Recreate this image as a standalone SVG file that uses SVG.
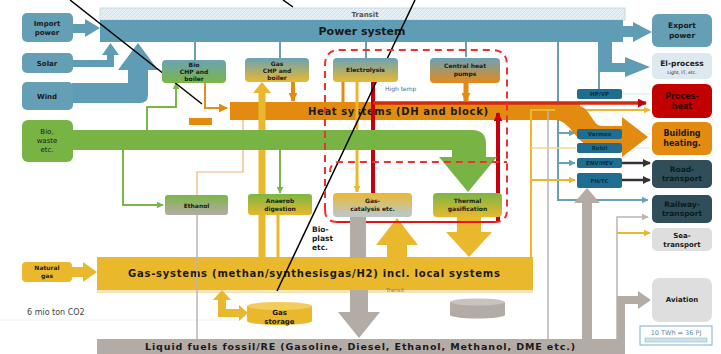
<svg xmlns="http://www.w3.org/2000/svg" width="721" height="354" viewBox="0 0 721 354">
<defs>
<style>
text{font-family:"DejaVu Sans","Liberation Sans",sans-serif;font-weight:bold;fill:#1a1a1a;text-anchor:middle}
.s5{font-size:5.5px}
.s6{font-size:6px}
.s7{font-size:7px}
.s75{font-size:7.5px}
.s8{font-size:8px}
.big{font-size:10px}
.norm{font-weight:normal}
.box{stroke:none}
.tealbox{fill:#659fb6}
.small{fill:#1f6d91}
.smallt{fill:#0c2d3e;font-size:5.5px}
.slate{fill:#2f4e59}
.lgray{fill:#dedede}
.tb{stroke:#6aa0b5;stroke-width:2;fill:none}
.tf{stroke:#d3e5ec;stroke-width:1;fill:none}
.ty{stroke:#e9b82d;stroke-width:2;fill:none}
.tg{stroke:#bdb5b0;stroke-width:1.5;fill:none}
.tgr{stroke:#7ab648;stroke-width:2;fill:none}
.red{stroke:#c4000c;stroke-width:4;fill:none}
.dash{stroke:#f03030;stroke-width:2;fill:none;stroke-dasharray:7 5}
</style>
<linearGradient id="gBio" x1="0" y1="0" x2="0" y2="1"><stop offset="0" stop-color="#6aa2b6"/><stop offset="1" stop-color="#7cb644"/></linearGradient>
<linearGradient id="gGas" x1="0" y1="0" x2="0" y2="1"><stop offset="0" stop-color="#6aa2b6"/><stop offset="1" stop-color="#e8b82e"/></linearGradient>
<linearGradient id="gHP" x1="0" y1="0" x2="0" y2="1"><stop offset="0" stop-color="#6aa2b6"/><stop offset="1" stop-color="#e58a1a"/></linearGradient>
<linearGradient id="gEth" x1="0" y1="0" x2="0" y2="1"><stop offset="0" stop-color="#7cb644"/><stop offset="1" stop-color="#b3aba6"/></linearGradient>
<linearGradient id="gGY" x1="0" y1="0" x2="0" y2="1"><stop offset="0" stop-color="#7cb644"/><stop offset="1" stop-color="#e8b82e"/></linearGradient>
<linearGradient id="gCat" x1="0" y1="0" x2="0" y2="1"><stop offset="0" stop-color="#eab830"/><stop offset="1" stop-color="#b9c9d2"/></linearGradient>
<pattern id="hatch" width="4" height="4" patternUnits="userSpaceOnUse"><rect width="4" height="4" fill="#e6f0f4"/><path d="M0 4L4 0" stroke="#cfe1e8" stroke-width="1"/></pattern>
<marker id="aB" viewBox="0 0 10 10" refX="9" refY="5" markerWidth="7" markerHeight="7" markerUnits="userSpaceOnUse" orient="auto"><path d="M0,0L10,5L0,10z" fill="#6aa0b5"/></marker>
<marker id="aY" viewBox="0 0 10 10" refX="9" refY="5" markerWidth="7" markerHeight="7" markerUnits="userSpaceOnUse" orient="auto"><path d="M0,0L10,5L0,10z" fill="#e9b82d"/></marker>
<marker id="aO" viewBox="0 0 10 10" refX="9" refY="5" markerWidth="9" markerHeight="9" markerUnits="userSpaceOnUse" orient="auto"><path d="M0,0L10,5L0,10z" fill="#e38a10"/></marker>
<marker id="aR" viewBox="0 0 10 10" refX="9" refY="5" markerWidth="9" markerHeight="9" markerUnits="userSpaceOnUse" orient="auto"><path d="M0,0L10,5L0,10z" fill="#c4000c"/></marker>
<marker id="aD" viewBox="0 0 10 10" refX="9" refY="5" markerWidth="8" markerHeight="8" markerUnits="userSpaceOnUse" orient="auto"><path d="M0,0L10,5L0,10z" fill="#333"/></marker>
<marker id="aGr" viewBox="0 0 10 10" refX="9" refY="5" markerWidth="7" markerHeight="7" markerUnits="userSpaceOnUse" orient="auto"><path d="M0,0L10,5L0,10z" fill="#7ab648"/></marker>
<marker id="aG" viewBox="0 0 10 10" refX="9" refY="5" markerWidth="7" markerHeight="7" markerUnits="userSpaceOnUse" orient="auto"><path d="M0,0L10,5L0,10z" fill="#bdb5b0"/></marker>
</defs>
<rect width="721" height="354" fill="#fff"/>
<line x1="0" y1="320" x2="240" y2="320" stroke="#f0f0f0" stroke-width="1"/>

<g id="power-system">
<rect x="100" y="8" width="525" height="12" fill="url(#hatch)" stroke="#bcd5df" stroke-width="0.8"/>
<rect x="100" y="20" width="523" height="22" fill="#5f9db6"/>
<text x="365" y="17" class="s7" style="fill:#555">Transit</text>
<text x="362" y="35" style="font-size:11px">Power system</text>
</g>
<g id="heat-systems">
<rect x="230" y="102" width="350" height="18" fill="#e38a10"/>
<text x="398" y="115" class="big" textLength="180">Heat systems (DH and block)</text>
</g>
<g id="gas-systems">
<rect x="97" y="257" width="436" height="33" fill="#e9b82d"/>
<rect x="97" y="290" width="436" height="3" fill="#f4e6b8"/>
<text x="314" y="277" class="big" textLength="372">Gas-systems (methan/synthesisgas/H2) incl. local systems</text>
<text x="395" y="292" class="s5 norm" style="fill:#8a7a50">Transit</text>
</g>
<g id="liquid-fuels">
<rect x="97" y="339" width="528" height="15" fill="#b3aba6"/>
<text x="360" y="350" style="font-size:9.5px" textLength="430">Liquid fuels fossil/RE (Gasoline, Diesel, Ethanol, Methanol, DME etc.)</text>
</g>

<g id="connectors">
<path class="tb" d="M195 42V60M280 42V58M366 42V58M466 42V57M599 72V89"/>
<path class="tb" d="M558 42V200H648" marker-end="url(#aB)"/>
<path class="tb" d="M558 133H575" marker-end="url(#aB)"/>
<path class="tb" d="M558 163H575" marker-end="url(#aB)"/>
<path class="tf" d="M622 94H650M622 134H650M622 148H650"/>
<path d="M205 83V108H227" stroke="#e88a20" stroke-width="2" fill="none" marker-end="url(#aO)"/>
<rect x="189" y="118" width="23" height="7" fill="#e38a10"/>
<path d="M243 120V172H197V195" stroke="#f2b27a" stroke-width="1.2" fill="none"/>
<path class="tgr" d="M123 150V205H163" marker-end="url(#aGr)"/>
<path class="tgr" d="M147 130V107H176V83" marker-end="url(#aGr)"/>
<path class="tgr" d="M280 150V193" marker-end="url(#aGr)"/>
<path class="tg" d="M197 215V339M548 110V339"/>
<path class="tg" d="M617 339V217H648" marker-end="url(#aG)"/>
<path class="ty" d="M531 257V110H650" marker-end="url(#aY)"/>
<path class="ty" d="M531 180H575" marker-end="url(#aY)"/>
<path d="M531 148H576" stroke="#f0d890" stroke-width="1.5" fill="none"/>
<path class="ty" d="M617 233H650" marker-end="url(#aY)"/>
<path d="M622 163H650" stroke="#333" stroke-width="2.5" fill="none" marker-end="url(#aD)"/>
<path d="M622 180H650" stroke="#333" stroke-width="2.5" fill="none" marker-end="url(#aD)"/>
<path d="M293 82V101" stroke="#e38a10" stroke-width="4" fill="none" marker-end="url(#aO)"/>
<path d="M466 83V101" stroke="#e38a10" stroke-width="5" fill="none" marker-end="url(#aO)"/>
<path d="M343 82V102" stroke="#e38a10" stroke-width="3" fill="none"/>
<path d="M262 258V92" stroke="#e9b82d" stroke-width="7" fill="none"/>
<polygon points="253,93 271,93 262,82" fill="#e9b82d"/>
<path d="M278 215V257" stroke="#e9b82d" stroke-width="3" fill="none"/>
<path d="M357 82V192" stroke="#e9b82d" stroke-width="3" fill="none" marker-end="url(#aY)"/>
<polygon points="387,258 407,258 407,245 418,245 397,218 376,245 387,245" fill="#e9b82d"/>
<polygon points="457,217 481,217 481,232 492,232 469,257 446,232 457,232" fill="#e9b82d"/>
<path d="M222 299V313H240" stroke="#e9b82d" stroke-width="8" fill="none"/>
<polygon points="213,300 231,300 222,290" fill="#e9b82d"/>
<polygon points="239,305 239,321 248,313" fill="#e9b82d"/>
<polygon points="72,267 83,267 83,262 97,272 83,282 83,277 72,277" fill="#e9b82d"/>
<path class="red" d="M373 82V193"/>
<path class="red" d="M498 222V113" marker-end="url(#aR)"/>
<path d="M373 103H646" stroke="#d42a10" stroke-width="3.5" fill="none" marker-end="url(#aR)"/>
<path d="M336 222H496" stroke="#e41515" stroke-width="2" fill="none"/>
<rect x="350" y="217" width="16" height="41" fill="#b3aba6"/>
<polygon points="350,290 368,290 368,312 380,312 359,338 338,312 350,312" fill="#b3aba6"/>
<polygon points="582,339 592,339 592,203 600,203 587,188 574,203 582,203" fill="#b3aba6"/>
<path d="M621 354V300H640" stroke="#b3aba6" stroke-width="8" fill="none"/>
<polygon points="638,291 638,309 651,300" fill="#b3aba6"/>
<polygon points="72,24 85,24 85,19 100,28 85,37 85,33 72,33" fill="#5f9db6"/>
<polygon points="72,60 107,60 107,55 102,55 110.5,43 119,55 114,55 114,67 72,67" fill="#5f9db6"/>
<path d="M72 83H128V70H118L138 43L158 70H148V95Q148 103 140 103H72Z" fill="#5f9db6"/>
<polygon points="623,26 633,26 633,22 652,32 633,42 633,37 623,37" fill="#5f9db6"/>
<polygon points="598,42 612,42 612,63 625,63 625,57 650,67 625,77 625,72 598,72" fill="#5f9db6"/>
<path d="M555 106H578C590 106 592 126 602 126H622V117L648 137L622 157V148H598C576 148 572 120 555 120Z" fill="#e38a10"/>
<path d="M70 130H472Q486 130 486 144V157H497L468 192L439 157H452V150H70Z" fill="#78b444"/>
<path d="M70 0L202 104M283 0L293 7M415 0L277 291" stroke="#000" stroke-width="1.5" fill="none"/>
</g>

<g id="import-power"><rect x="22" y="13" width="51" height="29" rx="5" class="tealbox"/><text x="47" y="26" class="s7">Import</text><text x="47" y="35" class="s7">power</text></g>
<g id="solar"><rect x="22" y="53" width="51" height="20" rx="5" class="tealbox"/><text x="47" y="66" class="s7">Solar</text></g>
<g id="wind"><rect x="22" y="82" width="51" height="28" rx="5" class="tealbox"/><text x="47" y="99" class="s7">Wind</text></g>
<g id="bio-waste"><rect x="22" y="120" width="51" height="42" rx="6" fill="#78b444"/><text x="47" y="134" class="s7 norm">Bio,</text><text x="47" y="143" class="s7 norm">waste</text><text x="47" y="152" class="s7 norm">etc.</text></g>
<g id="natural-gas"><rect x="22" y="262" width="50" height="20" rx="4" fill="#e9b82d"/><text x="47" y="270" class="s6">Natural</text><text x="47" y="278" class="s6">gas</text></g>

<g id="bio-chp"><rect x="162" y="60" width="64" height="23" rx="4" fill="url(#gBio)"/><text x="194" y="67" class="s6">Bio</text><text x="194" y="74" class="s6">CHP and</text><text x="194" y="81" class="s6">boiler</text></g>
<g id="gas-chp"><rect x="245" y="58" width="64" height="24" rx="4" fill="url(#gGas)"/><text x="277" y="65.5" class="s6">Gas</text><text x="277" y="72.5" class="s6">CHP and</text><text x="277" y="79.5" class="s6">boiler</text></g>
<g id="electrolysis"><rect x="333" y="58" width="65" height="24" rx="4" fill="url(#gGas)"/><text x="365.5" y="72" class="s6">Electrolysis</text></g>
<g id="central-heat-pumps"><rect x="430" y="58" width="70" height="25" rx="4" fill="url(#gHP)"/><text x="465" y="68" class="s6">Central heat</text><text x="465" y="76" class="s6">pumps</text></g>
<g id="ethanol"><rect x="165" y="195" width="63" height="20" rx="3" fill="url(#gEth)"/><text x="196.5" y="207.5" class="s6">Ethanol</text></g>
<g id="anaerob-digestion"><rect x="248" y="194" width="64" height="21" rx="3" fill="url(#gGY)"/><text x="280" y="203" class="s6">Anaerob</text><text x="280" y="211" class="s6">digestion</text></g>
<g id="gas-catalysis"><rect x="333" y="193" width="79" height="24" rx="4" fill="url(#gCat)"/><text x="372.5" y="203" class="s6">Gas-</text><text x="372.5" y="211" class="s6">catalysis etc.</text></g>
<g id="thermal-gasification"><rect x="433" y="193" width="69" height="24" rx="4" fill="url(#gGY)"/><text x="467.5" y="203" class="s6">Thermal</text><text x="467.5" y="211" class="s6">gasification</text></g>

<g id="gas-storage">
<path d="M247 306V321A32.5 4 0 0 0 312 321V306Z" fill="#e9b82d"/>
<ellipse cx="279.5" cy="306" rx="32.5" ry="4" fill="#f2cd5c"/>
<text x="279.5" y="315" class="s7">Gas</text><text x="279.5" y="323.5" class="s7">storage</text>
</g>
<g id="oil-storage">
<path d="M450 302V315A27.5 3.5 0 0 0 505 315V302Z" fill="#b3aba6"/>
<ellipse cx="477.5" cy="302" rx="27.5" ry="3.5" fill="#c9c2bd"/>
</g>

<g id="hp-vp"><rect x="577" y="89" width="45" height="10" rx="2" class="small"/><text x="599.5" y="96" class="smallt">HP/VP</text></g>
<g id="varmex"><rect x="577" y="129" width="45" height="10" rx="2" class="small"/><text x="599.5" y="136" class="smallt">Varmex</text></g>
<g id="robil"><rect x="577" y="143" width="45" height="10" rx="2" class="small"/><text x="599.5" y="150" class="smallt">Robil</text></g>
<g id="env-hev"><rect x="577" y="158" width="45" height="10" rx="2" class="small"/><text x="599.5" y="165" class="smallt">ENV/HEV</text></g>
<g id="fh-tc"><rect x="577" y="173" width="45" height="15" rx="2" class="small"/><text x="599.5" y="182.5" class="smallt">FH/TC</text></g>

<g id="export-power"><rect x="652" y="14" width="60" height="33" rx="6" class="tealbox"/><text x="682" y="28" class="s75">Export</text><text x="682" y="38" class="s75">power</text></g>
<g id="el-process"><rect x="652" y="53" width="60" height="26" rx="5" fill="#dde9ee"/><text x="682" y="66" class="s75">El-process</text><text x="682" y="74" class="norm" style="font-size:4.5px">Light, IT, etc.</text></g>
<g id="process-heat"><rect x="652" y="84" width="60" height="34" rx="6" fill="#c30000"/><text x="682" y="99" class="s8" style="fill:#3a0000">Proces-</text><text x="682" y="109" class="s8" style="fill:#3a0000">heat</text></g>
<g id="building-heating"><rect x="652" y="122" width="60" height="33" rx="6" fill="#e38a10"/><text x="682" y="136" class="s8">Building</text><text x="682" y="146" class="s8">heating.</text></g>
<g id="road-transport"><rect x="652" y="160" width="60" height="28" rx="5" class="slate"/><text x="682" y="172" class="s75" style="fill:#0a1a20">Road-</text><text x="682" y="181" class="s75" style="fill:#0a1a20">transport</text></g>
<g id="railway-transport"><rect x="652" y="195" width="60" height="28" rx="5" class="slate"/><text x="682" y="207" class="s75" style="fill:#0a1a20">Railway-</text><text x="682" y="216" class="s75" style="fill:#0a1a20">transport</text></g>
<g id="sea-transport"><rect x="652" y="228" width="60" height="23" rx="5" class="lgray"/><text x="682" y="238" class="s7">Sea-</text><text x="682" y="247" class="s7">transport</text></g>
<g id="aviation"><rect x="652" y="278" width="60" height="44" rx="7" class="lgray"/><text x="682" y="302" class="s7">Aviation</text></g>
<g id="legend"><rect x="640" y="326" width="72" height="19" fill="#fff" stroke="#7fb0c8" stroke-width="1"/><text x="676" y="334.5" class="norm" style="font-size:6.5px;fill:#5f8ea5">10 TWh = 36 PJ</text><rect x="645" y="338" width="62" height="4" fill="#cfe2ea" stroke="#7fb0c8" stroke-width="0.5"/></g>

<g id="red-region">
<path class="dash" d="M325 210V65Q325 50 340 50H492Q507 50 507 65V210Q507 222 495 222M325 210Q325 222 338 222"/>
<path class="dash" d="M330 172Q330 162 340 162H507"/>
</g>
<g id="annotations">
<text x="385" y="91" class="norm" style="font-size:6px;fill:#666;text-anchor:start">High temp</text>
<text x="312" y="232" class="s75" style="text-anchor:start">Bio-</text>
<text x="312" y="241" class="s75" style="text-anchor:start">plast</text>
<text x="312" y="250" class="s75" style="text-anchor:start">etc.</text>
<text x="27" y="315" class="norm" style="font-size:8px;fill:#444;text-anchor:start">6 mio ton CO2</text>
</g>
</svg>
